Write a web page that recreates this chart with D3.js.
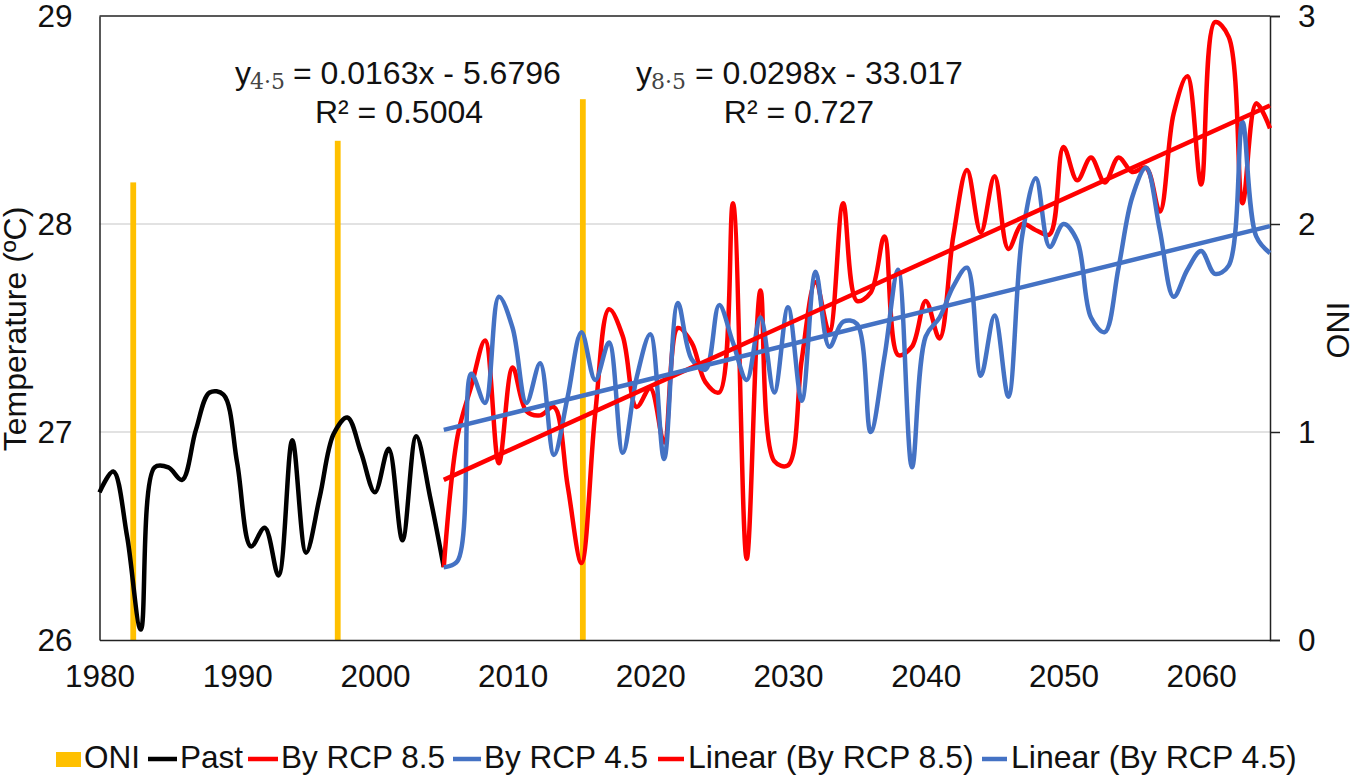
<!DOCTYPE html>
<html><head><meta charset="utf-8">
<script src="https://cdn.jsdelivr.net/npm/d3@7"></script>
<style>html,body{margin:0;padding:0;background:#fff}svg{display:block}text{font-family:"Liberation Sans",Arial,sans-serif;fill:#111}</style>
</head><body><svg id="c" width="1356" height="780"></svg>
<script>
const xTicks=[1980,1990,2000,2010,2020,2030,2040,2050,2060];
const tempTicks=[26,27,28,29];
const oniTicks=[0,1,2,3];
const oniYears=[1982.45,1997.3,2015.1];
const oniValues=[2.2,2.4,2.6];
const pastStart=1980;
const pastValues=[26.71,26.81,26.50,26.05,26.83,26.83,26.77,27.01,27.19,27.18,26.85,26.45,26.54,26.31,26.96,26.42,26.69,26.99,27.07,26.90,26.71,26.92,26.48,26.98,26.69,26.35];
const futureStart=2005;
const rcp85=[26.35,26.98,27.22,27.44,26.85,27.31,27.10,27.08,27.12,26.74,26.37,27.09,27.59,27.46,27.12,27.21,26.95,27.50,27.43,27.24,27.19,28.10,26.39,27.68,26.86,26.84,27.35,27.72,27.48,28.10,27.63,27.67,27.94,27.37,27.41,27.63,27.45,27.94,28.26,27.96,28.23,27.88,28.00,27.97,27.95,28.37,28.21,28.32,28.20,28.32,28.25,28.27,28.06,28.53,28.71,28.19,28.97,28.90,28.10,28.58,28.46];
const rcp45=[26.35,26.38,27.28,27.14,27.65,27.50,27.14,27.33,26.89,27.17,27.48,27.25,27.43,26.90,27.26,27.47,26.87,27.62,27.35,27.30,27.61,27.43,27.25,27.55,27.19,27.60,27.15,27.77,27.41,27.53,27.52,27.00,27.36,27.78,26.83,27.46,27.55,27.70,27.79,27.27,27.56,27.17,27.94,28.22,27.89,28.00,27.92,27.55,27.48,27.79,28.13,28.27,27.97,27.65,27.78,27.87,27.76,27.80,28.49,27.94,27.86];
const trendYears=[2005,2065];
const trend85=[26.77,28.57];
const trend45=[27.01,27.99];
const legendLabels=["ONI","Past","By RCP 8.5","By RCP 4.5","Linear (By RCP 8.5)","Linear (By RCP 4.5)"];
const colors={oni:"#FFC000",past:"#000000",r85:"#FF0000",r45:"#4472C4"};

const svg=d3.select("#c");
const x=d3.scaleLinear().domain([1980,2065]).range([99.5,1270]);
const yT=d3.scaleLinear().domain([26,29]).range([640,16]);
const yO=d3.scaleLinear().domain([0,3]).range([640,16]);
const FS=31.5;

svg.append("g").selectAll("line").data([27,28]).join("line")
 .attr("x1",x(1980)).attr("x2",x(2065)).attr("y1",d=>yT(d)).attr("y2",d=>yT(d))
 .attr("stroke","#d9d9d9").attr("stroke-width",1.5);

svg.append("g").selectAll("rect").data(oniYears).join("rect")
 .attr("x",d=>x(d)-2.9).attr("width",5.8)
 .attr("y",(d,i)=>yO(oniValues[i])).attr("height",(d,i)=>640-yO(oniValues[i]))
 .attr("fill",colors.oni);

function axisStyle(g){g.selectAll("text").style("font-size",FS+"px").attr("fill","#111");}
const gx=svg.append("g").attr("transform","translate(0,640)")
 .call(d3.axisBottom(x).tickValues(xTicks).tickFormat(d3.format("d")).tickSize(0).tickPadding(25));
gx.call(axisStyle);gx.select(".domain").attr("stroke","#222").attr("stroke-width",1.5);
const gl=svg.append("g").attr("transform","translate(99.5,0)")
 .call(d3.axisLeft(yT).tickValues(tempTicks).tickFormat(d3.format("d")).tickSize(0).tickPadding(27));
gl.call(axisStyle);gl.select(".domain").attr("stroke","#222").attr("stroke-width",1.5);
const gr=svg.append("g").attr("transform","translate(1270,0)")
 .call(d3.axisRight(yO).tickValues(oniTicks).tickFormat(d3.format("d")).tickSize(10).tickPadding(18));
gr.call(axisStyle);gr.select(".domain").attr("stroke","#222").attr("stroke-width",1.5);
gr.selectAll("line").attr("stroke","#222").attr("stroke-width",1.5);
svg.append("line").attr("x1",x(1980)).attr("x2",x(2065)).attr("y1",yT(29)).attr("y2",yT(29)).attr("stroke","#222").attr("stroke-width",1.5);

const line=d3.line().curve(d3.curveCatmullRom.alpha(0.5)).x(d=>x(d[0])).y(d=>yT(d[1]));
const withYears=(arr,s)=>arr.map((v,i)=>[s+i,v]);
function draw(pts,c,w){svg.append("path").attr("d",line(pts)).attr("fill","none").attr("stroke",c).attr("stroke-width",w).attr("stroke-linejoin","round");}
draw(withYears(pastValues,pastStart),colors.past,4.5);
draw(withYears(rcp85,futureStart),colors.r85,4.5);
draw(withYears(rcp45,futureStart),colors.r45,4.5);
draw(trendYears.map((t,i)=>[t,trend85[i]]),colors.r85,4.5);
draw(trendYears.map((t,i)=>[t,trend45[i]]),colors.r45,4.5);

svg.append("text").attr("transform","translate(26,329) rotate(-90)").attr("text-anchor","middle").style("font-size","32px").text("Temperature (ºC)");
svg.append("text").attr("transform","translate(1349,330) rotate(-90)").attr("text-anchor","middle").style("font-size","32px").text("ONI");

function eq(xp,xSub,xEq,sub,rest,xR,r2){
 svg.append("text").attr("x",xp).attr("y",84).style("font-size","32px").text("y");
 svg.append("text").attr("x",xSub).attr("y",89).style("font-size","22px").style("font-family","'DejaVu Serif','Liberation Serif',serif").style("fill","#444").text(sub);
 svg.append("text").attr("x",xEq).attr("y",84).style("font-size","32px").text(rest);
 svg.append("text").attr("x",xR).attr("y",123).attr("text-anchor","middle").style("font-size","32px").text(r2);
}
eq(235,250,293,"4·5","= 0.0163x - 5.6796",399,"R² = 0.5004");
eq(636,651,695,"8·5","= 0.0298x - 33.017",799,"R² = 0.727");

const entries=[
 {k:"rect",c:colors.oni,x0:56,x1:81,tx:84,fs:31.5},
 {k:"line",c:colors.past,x0:148,x1:177,tx:180,fs:31.5},
 {k:"line",c:colors.r85,x0:248,x1:278,tx:281,fs:31.5},
 {k:"line",c:colors.r45,x0:453,x1:481,tx:484,fs:31.5},
 {k:"line",c:colors.r85,x0:658,x1:684,tx:688,fs:32},
 {k:"line",c:colors.r45,x0:982,x1:1007,tx:1011,fs:32}];
const lg=svg.append("g");
entries.forEach((e,i)=>{
 if(e.k==="rect")lg.append("rect").attr("x",e.x0).attr("y",752).attr("width",e.x1-e.x0).attr("height",15).attr("fill",e.c);
 else lg.append("line").attr("x1",e.x0).attr("x2",e.x1).attr("y1",759).attr("y2",759).attr("stroke",e.c).attr("stroke-width",4.5);
 lg.append("text").attr("x",e.tx).attr("y",768).style("font-size",e.fs+"px").text(legendLabels[i]);
});
</script></body></html>
